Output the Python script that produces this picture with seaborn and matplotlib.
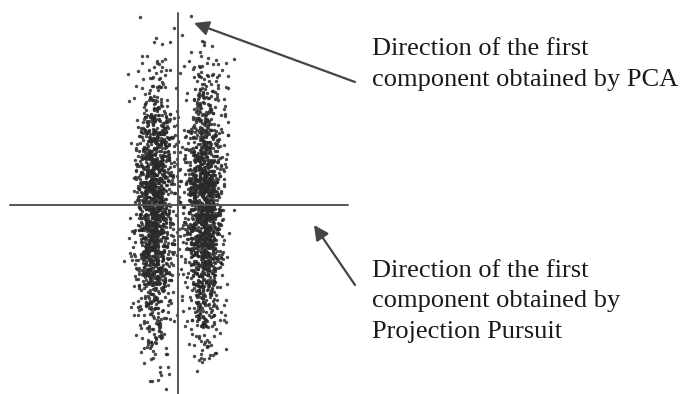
import numpy as np
import pandas as pd
import matplotlib
matplotlib.use("Agg")
import matplotlib.pyplot as plt
import seaborn as sns

# ---- data (pixel-space units of the illustration) ----
cluster_names = ["left", "right"]
cluster_center_x = [155, 204]
cluster_center_y = [208, 208]
cluster_sd_x = [9.5, 9.5]
cluster_sd_y = [64, 64]
cluster_counts = [1500, 1500]

vline_x = [178, 178]
vline_y = [13, 394]
hline_x = [10, 348]
hline_y = [205, 205]

label_pca = ["Direction of the first", "component obtained by PCA"]
label_pp = ["Direction of the first", "component obtained by", "Projection Pursuit"]

# sample the two elongated clusters (fixed seed)
rng = np.random.default_rng(7)
frames = []
for name, cx, cy, sx, sy, n in zip(cluster_names, cluster_center_x, cluster_center_y,
                                    cluster_sd_x, cluster_sd_y, cluster_counts):
    xs = rng.normal(cx, sx, n)
    ys = rng.normal(cy, sy, n)
    keep = (ys > 12) & (ys < 392)
    frames.append(pd.DataFrame({"x": xs[keep], "y": ys[keep], "cluster": name}))
df = pd.concat(frames, ignore_index=True)

sns.set_style("white")
plt.rcParams["font.family"] = ["Liberation Serif", "DejaVu Serif"]

fig = plt.figure(figsize=(6.82, 3.94), dpi=100)
ax = fig.add_axes([0, 0, 1, 1])
ax.set_xlim(0, 682)
ax.set_ylim(394, 0)
ax.axis("off")

sns.scatterplot(data=df, x="x", y="y", ax=ax, color="#2a2a2a", s=6,
                linewidth=0, alpha=0.85, legend=False)

ax.plot(vline_x, vline_y, color="#555555", lw=1.4, zorder=3)
ax.plot(hline_x, hline_y, color="#555555", lw=1.4, zorder=3)

arrow = dict(arrowstyle="-|>", color="#444444", lw=1.6, mutation_scale=22,
             shrinkA=0, shrinkB=0)
ax.annotate("", xy=(194, 23), xytext=(355, 82), arrowprops=arrow)
ax.annotate("", xy=(314, 225), xytext=(355, 285), arrowprops=arrow)

line_step = 30.5
for i, line in enumerate(label_pca):
    ax.text(372, 55 + i * line_step, line, fontsize=19, color="#1a1a1a",
            va="baseline", ha="left")
for i, line in enumerate(label_pp):
    ax.text(372, 277 + i * line_step, line, fontsize=19, color="#1a1a1a",
            va="baseline", ha="left")

fig.savefig("out.png", dpi=100, facecolor="white")
